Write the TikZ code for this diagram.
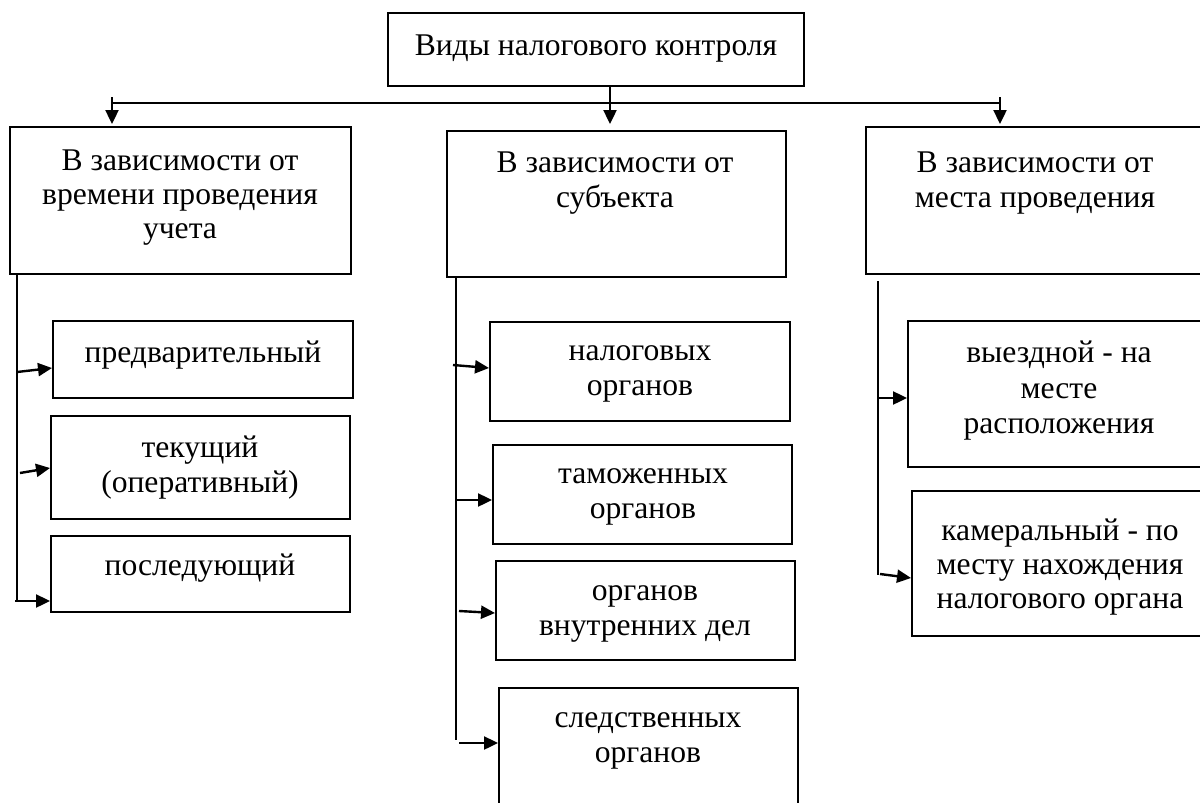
\documentclass[tikz,border=0pt]{standalone}
\usepackage{fontspec}
\setmainfont{Liberation Serif}
\usetikzlibrary{arrows.meta,fit}
\tikzset{
  box/.style={draw=black, line width=1pt, inner sep=0pt, fill=none},
  txt/.style={anchor=base, inner sep=0pt, font=\fontsize{15.8}{17.5}\selectfont},
  conn/.style={line width=1pt},
  arr/.style={line width=1.2pt, -{Triangle[length=7pt,width=6.5pt]}}
}
\begin{document}
\begin{tikzpicture}[x=0.5pt,y=-0.5pt]
\useasboundingbox (0,0) rectangle (1200,803);
\clip (0,0) rectangle (1200,803);
\fill[white] (0,0) rectangle (1200,803);
% boxes
\node[box, fit={(388,13) (804,86)}] (top) {};
\node[box, fit={(10,127) (351,274)}] (L) {};
\node[box, fit={(447,131) (786,277)}] (M) {};
\node[box, fit={(866,127) (1210,274)}] (R) {};
\node[box, fit={(53,321) (353,398)}] (L1) {};
\node[box, fit={(51,416) (350,519)}] (L2) {};
\node[box, fit={(51,536) (350,612)}] (L3) {};
\node[box, fit={(490,322) (790,421)}] (M1) {};
\node[box, fit={(493,445) (792,544)}] (M2) {};
\node[box, fit={(496,561) (795,660)}] (M3) {};
\node[box, fit={(499,688) (798,820)}] (M4) {};
\node[box, fit={(908,321) (1212,467)}] (R1) {};
\node[box, fit={(912,491) (1210,636)}] (R2) {};
% texts
\node[txt] (ttop) at (596,55) {Виды налогового контроля};
\node[txt] (tLa) at (180,170) {В зависимости от};
\node[txt] (tLb) at (180,204) {времени проведения};
\node[txt] (tLc) at (180,238) {учета};
\node[txt] (tMa) at (615,172) {В зависимости от};
\node[txt] (tMb) at (615,207) {субъекта};
\node[txt] (tRa) at (1035,172) {В зависимости от};
\node[txt] (tRb) at (1035,207) {места проведения};
\node[txt] (tL1) at (203,362) {предварительный};
\node[txt] (tL2a) at (200,457) {текущий};
\node[txt] (tL2b) at (200,492) {(оперативный)};
\node[txt] (tL3) at (200,575) {последующий};
\node[txt] (tM1a) at (640,360) {налоговых};
\node[txt] (tM1b) at (640,395) {органов};
\node[txt] (tM2a) at (643,483) {таможенных};
\node[txt] (tM2b) at (643,518) {органов};
\node[txt] (tM3a) at (645,600) {органов};
\node[txt] (tM3b) at (645,635) {внутренних дел};
\node[txt] (tM4a) at (648,727) {следственных};
\node[txt] (tM4b) at (648,762) {органов};
\node[txt] (tR1a) at (1059,362) {выездной - на};
\node[txt] (tR1b) at (1059,398) {месте};
\node[txt] (tR1c) at (1059,433) {расположения};
\node[txt] (tR2a) at (1060,540) {камеральный - по};
\node[txt] (tR2b) at (1060,574) {месту нахождения};
\node[txt] (tR2c) at (1060,608) {налогового органа};
% top connectors
\coordinate (hl) at (112,103);
\coordinate (hr) at (1000,103);
\coordinate (al) at (112,97);
\coordinate (ar) at (1000,97);
\draw[conn] (hl) -- (hr);
\draw[arr] (al) -- (112,124);
\draw[arr] (ar) -- (1000,124);
\draw[arr] (top.south -| 610,0) -- (610,124);
% left branch
\coordinate (lv0) at (17,274);
\coordinate (lv1) at (17,601);
\draw[conn] (lv0) -- (lv1);
\draw[arr] (17,372) -- (L1.west |- 0,368);
\draw[arr] (20,473) -- (L2.west |- 0,468);
\draw[arr] (15,601) -- (L3.west |- 0,601);
% middle branch
\coordinate (mv0) at (456,277);
\coordinate (mv1) at (456,740);
\draw[conn] (mv0) -- (mv1);
\draw[arr] (453,365) -- (M1.west |- 0,368);
\draw[arr] (456,500) -- (M2.west |- 0,500);
\draw[arr] (459,611) -- (M3.west |- 0,613);
\draw[arr] (459,743) -- (M4.west |- 0,743);
% right branch
\coordinate (rv0) at (878,281);
\coordinate (rv1) at (878,575);
\draw[conn] (rv0) -- (rv1);
\draw[arr] (878,398) -- (R1.west |- 0,398);
\draw[arr] (880,574) -- (R2.west |- 0,578);
\end{tikzpicture}
\end{document}
